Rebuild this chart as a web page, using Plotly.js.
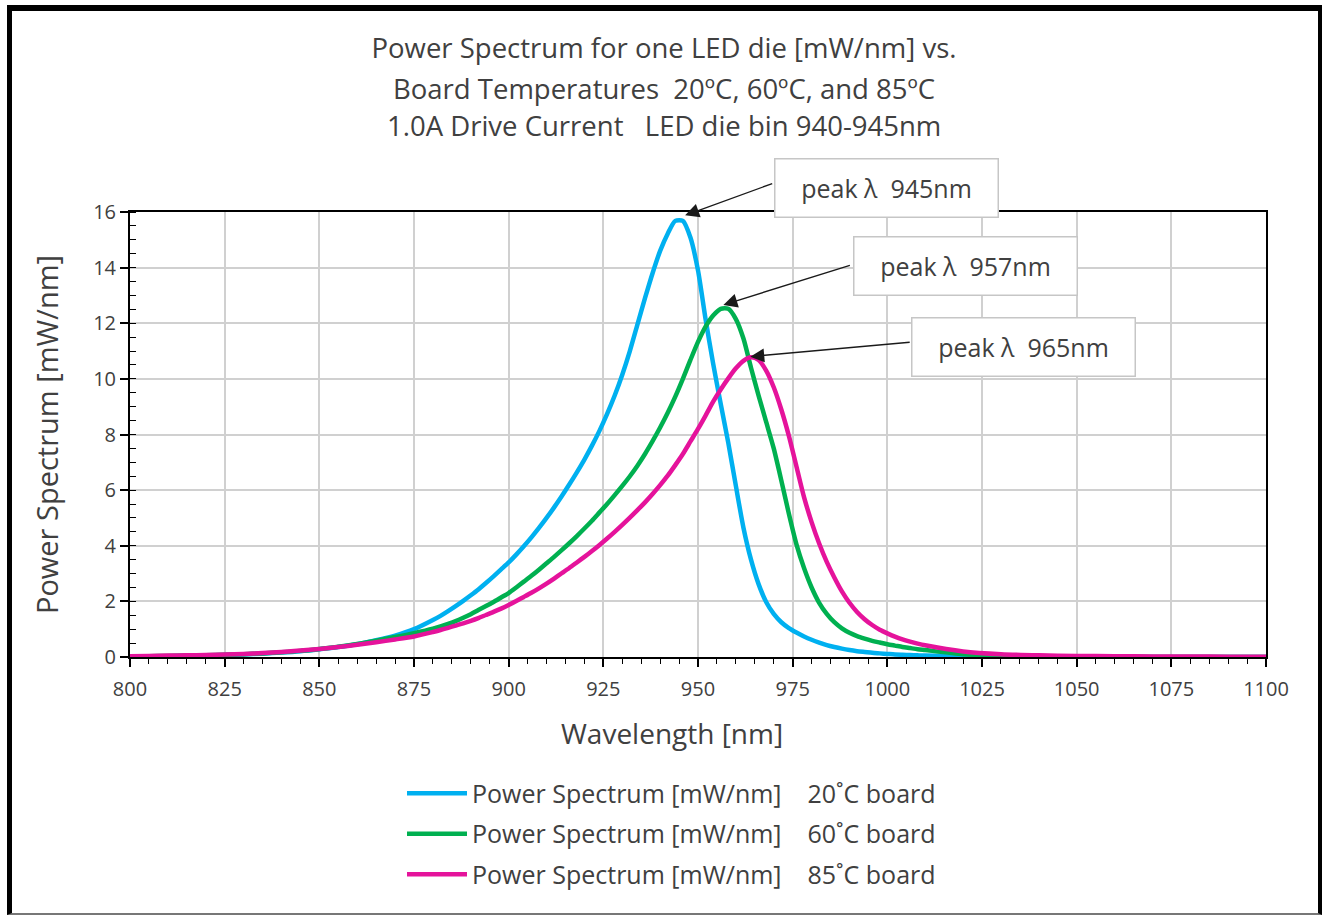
<!DOCTYPE html>
<html>
<head>
<meta charset="utf-8">
<script src="https://cdn.plot.ly/plotly-3.0.1.min.js"></script>
<style>
  html, body { margin: 0; padding: 0; background: #fff; }
  #wrap { position: relative; width: 1322px; height: 915px; }
  #chart { position: absolute; left: 0; top: 0; width: 1322px; height: 915px; }
  #frame { position: absolute; left: 7px; top: 5px; width: 1315px; height: 910px;
           border-left: 5px solid #000; border-top: 6px solid #000; border-right: 4px solid #000;
           border-bottom: 2px solid #777; box-sizing: border-box; pointer-events: none; }
</style>
</head>
<body>
<div id="wrap">
  <div id="chart"></div>
  <div id="frame"></div>
</div>
<script>
// Wavelength grid [nm]
const wavelength = [
  800,805,810,815,820,825,830,835,840,845,850,855,860,865,870,875,
  880,882,884,886,888,890,892,894,896,898,
  900,902,904,906,908,910,912,914,916,918,
  920,922,924,926,928,930,932,934,936,938,
  940,942,944,946,948,950,952,954,956,958,
  960,962,964,966,968,970,972,974,976,978,
  980,982,984,986,988,990,992,994,996,998,
  1000,1002,1004,1006,1008,1010,
  1020,1030,1040,1050,1060,1070,1080,1090,1100
];

// Power spectrum [mW/nm], 20°C board
const power20C = [
  0.01,0.02,0.03,0.04,0.05,0.07,0.09,0.12,0.16,0.21,0.28,0.36,0.46,0.60,0.77,1.00,
  1.33,1.48,1.65,1.83,2.02,2.22,2.43,2.66,2.90,3.15,
  3.40,3.68,3.98,4.30,4.64,5.00,5.38,5.78,6.20,6.64,
  7.10,7.60,8.14,8.74,9.40,10.15,11.00,11.95,12.90,13.80,
  14.60,15.22,15.68,15.68,15.08,13.90,12.15,10.55,9.10,7.70,
  6.15,4.65,3.50,2.62,1.98,1.55,1.25,1.04,0.88,0.74,
  0.62,0.52,0.43,0.36,0.30,0.25,0.21,0.18,0.15,0.13,
  0.11,0.09,0.08,0.07,0.06,0.05,
  0.03,0.01,0.01,0.00,0.00,0.00,0.00,0.00,0.00
];

// Power spectrum [mW/nm], 60°C board
const power60C = [
  0.02,0.03,0.04,0.05,0.06,0.08,0.10,0.13,0.17,0.22,0.29,0.37,0.47,0.59,0.72,0.86,
  1.02,1.10,1.19,1.29,1.41,1.54,1.69,1.83,1.98,2.14,
  2.30,2.50,2.71,2.92,3.14,3.37,3.60,3.84,4.09,4.35,
  4.62,4.90,5.20,5.50,5.82,6.15,6.50,6.88,7.30,7.76,
  8.25,8.78,9.36,10.00,10.68,11.33,11.88,12.28,12.52,12.52,
  12.15,11.45,10.40,9.40,8.45,7.50,6.35,5.15,4.05,3.20,
  2.50,1.95,1.55,1.25,1.03,0.87,0.75,0.66,0.58,0.52,
  0.46,0.41,0.36,0.32,0.28,0.25,
  0.10,0.04,0.02,0.01,0.01,0.00,0.00,0.00,0.00
];

// Power spectrum [mW/nm], 85°C board
const power85C = [
  0.03,0.04,0.05,0.06,0.07,0.09,0.11,0.14,0.18,0.23,0.29,0.36,0.44,0.53,0.63,0.74,
  0.90,0.97,1.05,1.13,1.21,1.30,1.40,1.51,1.62,1.74,
  1.87,2.01,2.16,2.31,2.47,2.64,2.82,3.01,3.20,3.40,
  3.60,3.81,4.03,4.26,4.50,4.75,5.01,5.28,5.56,5.86,
  6.18,6.52,6.90,7.30,7.75,8.20,8.68,9.18,9.62,10.02,
  10.38,10.65,10.78,10.68,10.30,9.70,8.90,7.95,6.85,5.75,
  4.85,4.08,3.42,2.86,2.36,1.95,1.62,1.36,1.15,0.98,
  0.85,0.73,0.63,0.55,0.48,0.42,
  0.20,0.10,0.06,0.04,0.03,0.02,0.02,0.01,0.01
];

const seriesNames = [
  "Power Spectrum [mW/nm]\u00a0\u00a0\u00a0 20\u02daC board",
  "Power Spectrum [mW/nm]\u00a0\u00a0\u00a0 60\u02daC board",
  "Power Spectrum [mW/nm]\u00a0\u00a0\u00a0 85\u02daC board"
];
const seriesColors = ["#00b0f0", "#00b050", "#e5139b"];

const titleLines = [
  "Power Spectrum for one LED die [mW/nm] vs.",
  "Board Temperatures\u00a0 20\u00baC, 60\u00baC, and 85\u00baC",
  "1.0A Drive Current\u00a0\u00a0 LED die bin 940-945nm"
];
const xAxisTitle = "Wavelength [nm]";
const yAxisTitle = "Power Spectrum [mW/nm]";

// Peak labels: text, arrow head (x,y) and arrow tail (x,y) in data units
const peakLabels = ["peak \u03bb\u00a0 945nm", "peak \u03bb\u00a0 957nm", "peak \u03bb\u00a0 965nm"];
const peakHeadX = [946.6, 956.7, 963.8];
const peakHeadY = [15.88, 12.66, 10.80];
const peakTailX = [970.0, 990.5, 1006.3];
const peakTailY = [17.04, 14.10, 11.32];

const FONT = "'Open Sans', 'Noto Sans', sans-serif";
const TXT = "#404040";

const ys = [power20C, power60C, power85C];
const traces = ys.map((y, i) => ({
  type: "scatter", mode: "lines",
  x: wavelength, y: y,
  name: seriesNames[i],
  legendgroup: "g" + i,
  line: { color: seriesColors[i], width: 4.5, shape: "spline", smoothing: 0.7 },
  hoverinfo: "x+y"
}));

// pixel helpers for placing text boxes (page pixels -> paper fractions)
const PL = 130, PR = 1266, PT = 212, PB = 657;
const px2paperX = p => (p - PL) / (PR - PL);
const px2paperY = p => (PB - p) / (PB - PT);

const annotations = [];
// title lines 2 and 3
[[1, 88], [2, 125]].forEach(([i, py]) => {
  annotations.push({
    xref: "paper", yref: "paper", x: px2paperX(664), y: px2paperY(py),
    xanchor: "center", yanchor: "middle", showarrow: false,
    text: titleLines[i], font: { family: FONT, size: 27.5, color: TXT }
  });
});
// x-axis title (centred left of the plot centre, as in the original)
annotations.push({
  xref: "paper", yref: "paper", x: px2paperX(672), y: px2paperY(733),
  xanchor: "center", yanchor: "middle", showarrow: false,
  text: xAxisTitle, font: { family: FONT, size: 28, color: TXT }
});
// peak arrows
peakLabels.forEach((t, i) => {
  annotations.push({
    xref: "x", yref: "y", axref: "x", ayref: "y",
    x: peakHeadX[i], y: peakHeadY[i], ax: peakTailX[i], ay: peakTailY[i],
    text: " ", font: { size: 1 }, showarrow: true,
    arrowhead: 2, arrowsize: 2, arrowwidth: 1.4, arrowcolor: "#1a1a1a",
    standoff: 0, startstandoff: 0
  });
});
// peak label boxes
const boxCentersPx = [[886, 188], [965, 266], [1023, 347]];
peakLabels.forEach((t, i) => {
  annotations.push({
    xref: "paper", yref: "paper",
    x: px2paperX(boxCentersPx[i][0]), y: px2paperY(boxCentersPx[i][1]),
    xanchor: "center", yanchor: "middle", showarrow: false,
    text: t, font: { family: FONT, size: 25, color: TXT },
    bgcolor: "#ffffff", bordercolor: "#c6c6c6", borderwidth: 1.5,
    width: 220, height: 55
  });
});

const layout = {
  width: 1322, height: 915,
  paper_bgcolor: "#ffffff", plot_bgcolor: "#ffffff",
  margin: { l: PL, r: 1322 - PR, t: PT, b: 915 - PB, pad: 0 },
  font: { family: FONT, color: TXT },
  title: {
    text: titleLines[0],
    font: { family: FONT, size: 27.5, color: TXT },
    x: 664 / 1322, xanchor: "center", xref: "container",
    y: 1 - 48 / 915, yanchor: "middle", yref: "container"
  },
  showlegend: true,
  legend: {
    orientation: "v",
    x: px2paperX(402), xanchor: "left",
    y: -0.255, yanchor: "top",
    font: { family: FONT, size: 25, color: TXT },
    tracegroupgap: 5,
    itemwidth: 60,
    bgcolor: "rgba(0,0,0,0)"
  },
  xaxis: {
    range: [800, 1100], dtick: 25, tick0: 800,
    showgrid: true, gridcolor: "#d0d0d0", gridwidth: 2,
    zeroline: false,
    showline: true, linecolor: "#000", linewidth: 2, mirror: true,
    ticks: "outside", ticklen: 8, tickwidth: 1.5, tickcolor: "#000",
    ticklabelstandoff: 5,
    minor: { dtick: 5, ticks: "outside", ticklen: 5, tickwidth: 1, tickcolor: "#000", showgrid: false },
    tickfont: { family: FONT, size: 20, color: TXT }
  },
  yaxis: {
    range: [0, 16], dtick: 2, tick0: 0,
    showgrid: true, gridcolor: "#d0d0d0", gridwidth: 2,
    zeroline: false,
    showline: true, linecolor: "#000", linewidth: 2, mirror: true,
    ticks: "outside", ticklen: 8, tickwidth: 1.5, tickcolor: "#000",
    minor: { dtick: 0.5, ticks: "inside", ticklen: 6, tickwidth: 1, tickcolor: "#000", showgrid: false },
    tickfont: { family: FONT, size: 20, color: TXT },
    title: { text: yAxisTitle, font: { family: FONT, size: 29, color: TXT }, standoff: 26 }
  },
  annotations: annotations
};

Plotly.newPlot("chart", traces, layout, { displayModeBar: false, responsive: false });
</script>
</body>
</html>
